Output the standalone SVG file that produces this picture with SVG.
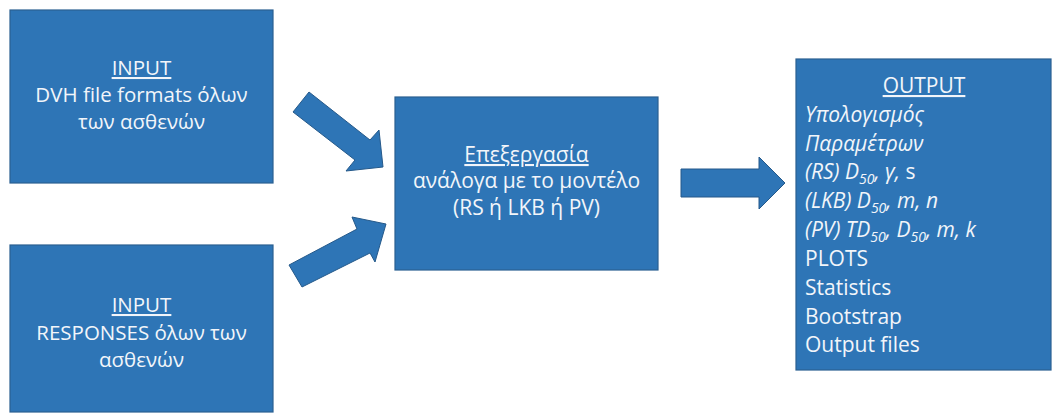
<svg xmlns="http://www.w3.org/2000/svg" width="1052" height="415" viewBox="0 0 1052 415">
<style>
.box{fill:#2e75b6;stroke:#2a5f91;stroke-width:1.2}
.arrow{fill:#2e75b6;stroke:#25598a;stroke-width:1}
text{font-family:"Open Sans","Liberation Sans",sans-serif;font-size:21px;fill:#f2f5fa}
.in{font-size:20.5px}
.c{text-anchor:middle}
.u{text-decoration:underline}
.i{font-style:italic}
.sub{font-size:14px}
</style>
<rect width="1052" height="415" fill="#ffffff"/>
<g id="input1">
<rect class="box" x="10" y="10" width="263" height="173"/>
<text class="c in" x="141.5" y="75"><tspan class="u">INPUT</tspan><tspan x="141.5" dy="27">DVH file formats όλων</tspan><tspan x="141.5" dy="27">των ασθενών</tspan></text>
</g>
<g id="input2">
<rect class="box" x="10" y="245" width="263" height="167"/>
<text class="c in" x="141.5" y="312"><tspan class="u">INPUT</tspan><tspan x="141.5" dy="28">RESPONSES όλων των</tspan><tspan x="141.5" dy="27">ασθενών</tspan></text>
</g>
<g id="process">
<rect class="box" x="395" y="97" width="263" height="173"/>
<text class="c" x="526.5" y="162"><tspan class="u">Επεξεργασία</tspan><tspan x="526.5" dy="26">ανάλογα με το μοντέλο</tspan><tspan x="526.5" dy="27">(RS ή LKB ή PV)</tspan></text>
</g>
<g id="output">
<rect class="box" x="796" y="59" width="255" height="311"/>
<text class="c u" x="924" y="93">OUTPUT</text>
<text class="i" x="805" y="122">Υπολογισμός</text>
<text class="i" x="805" y="151">Παραμέτρων</text>
<text x="805" y="179"><tspan class="i">(RS) D</tspan><tspan class="i sub" dy="5">50</tspan><tspan class="i" dy="-5">, γ, </tspan>s</text>
<text class="i" x="805" y="208">(LKB) D<tspan class="sub" dy="5">50</tspan><tspan dy="-5">, m, n</tspan></text>
<text class="i" x="805" y="237">(PV) TD<tspan class="sub" dy="5">50</tspan><tspan dy="-5">, D</tspan><tspan class="sub" dy="5">50</tspan><tspan dy="-5">, m, k</tspan></text>
<text x="805" y="266">PLOTS</text>
<text x="805" y="295">Statistics</text>
<text x="805" y="324">Bootstrap</text>
<text x="805" y="352">Output files</text>
</g>
<g id="connectors">
<polygon class="arrow" points="293,112 309,92 370,140 379,130 383,167 346,171 355,160"/>
<polygon class="arrow" points="289,265 357,229 352,217 386,224 375,262 370,253 302,287"/>
<polygon class="arrow" points="681,169 759,169 759,157 785,183 759,209 759,197 681,197"/>
</g>
</svg>
